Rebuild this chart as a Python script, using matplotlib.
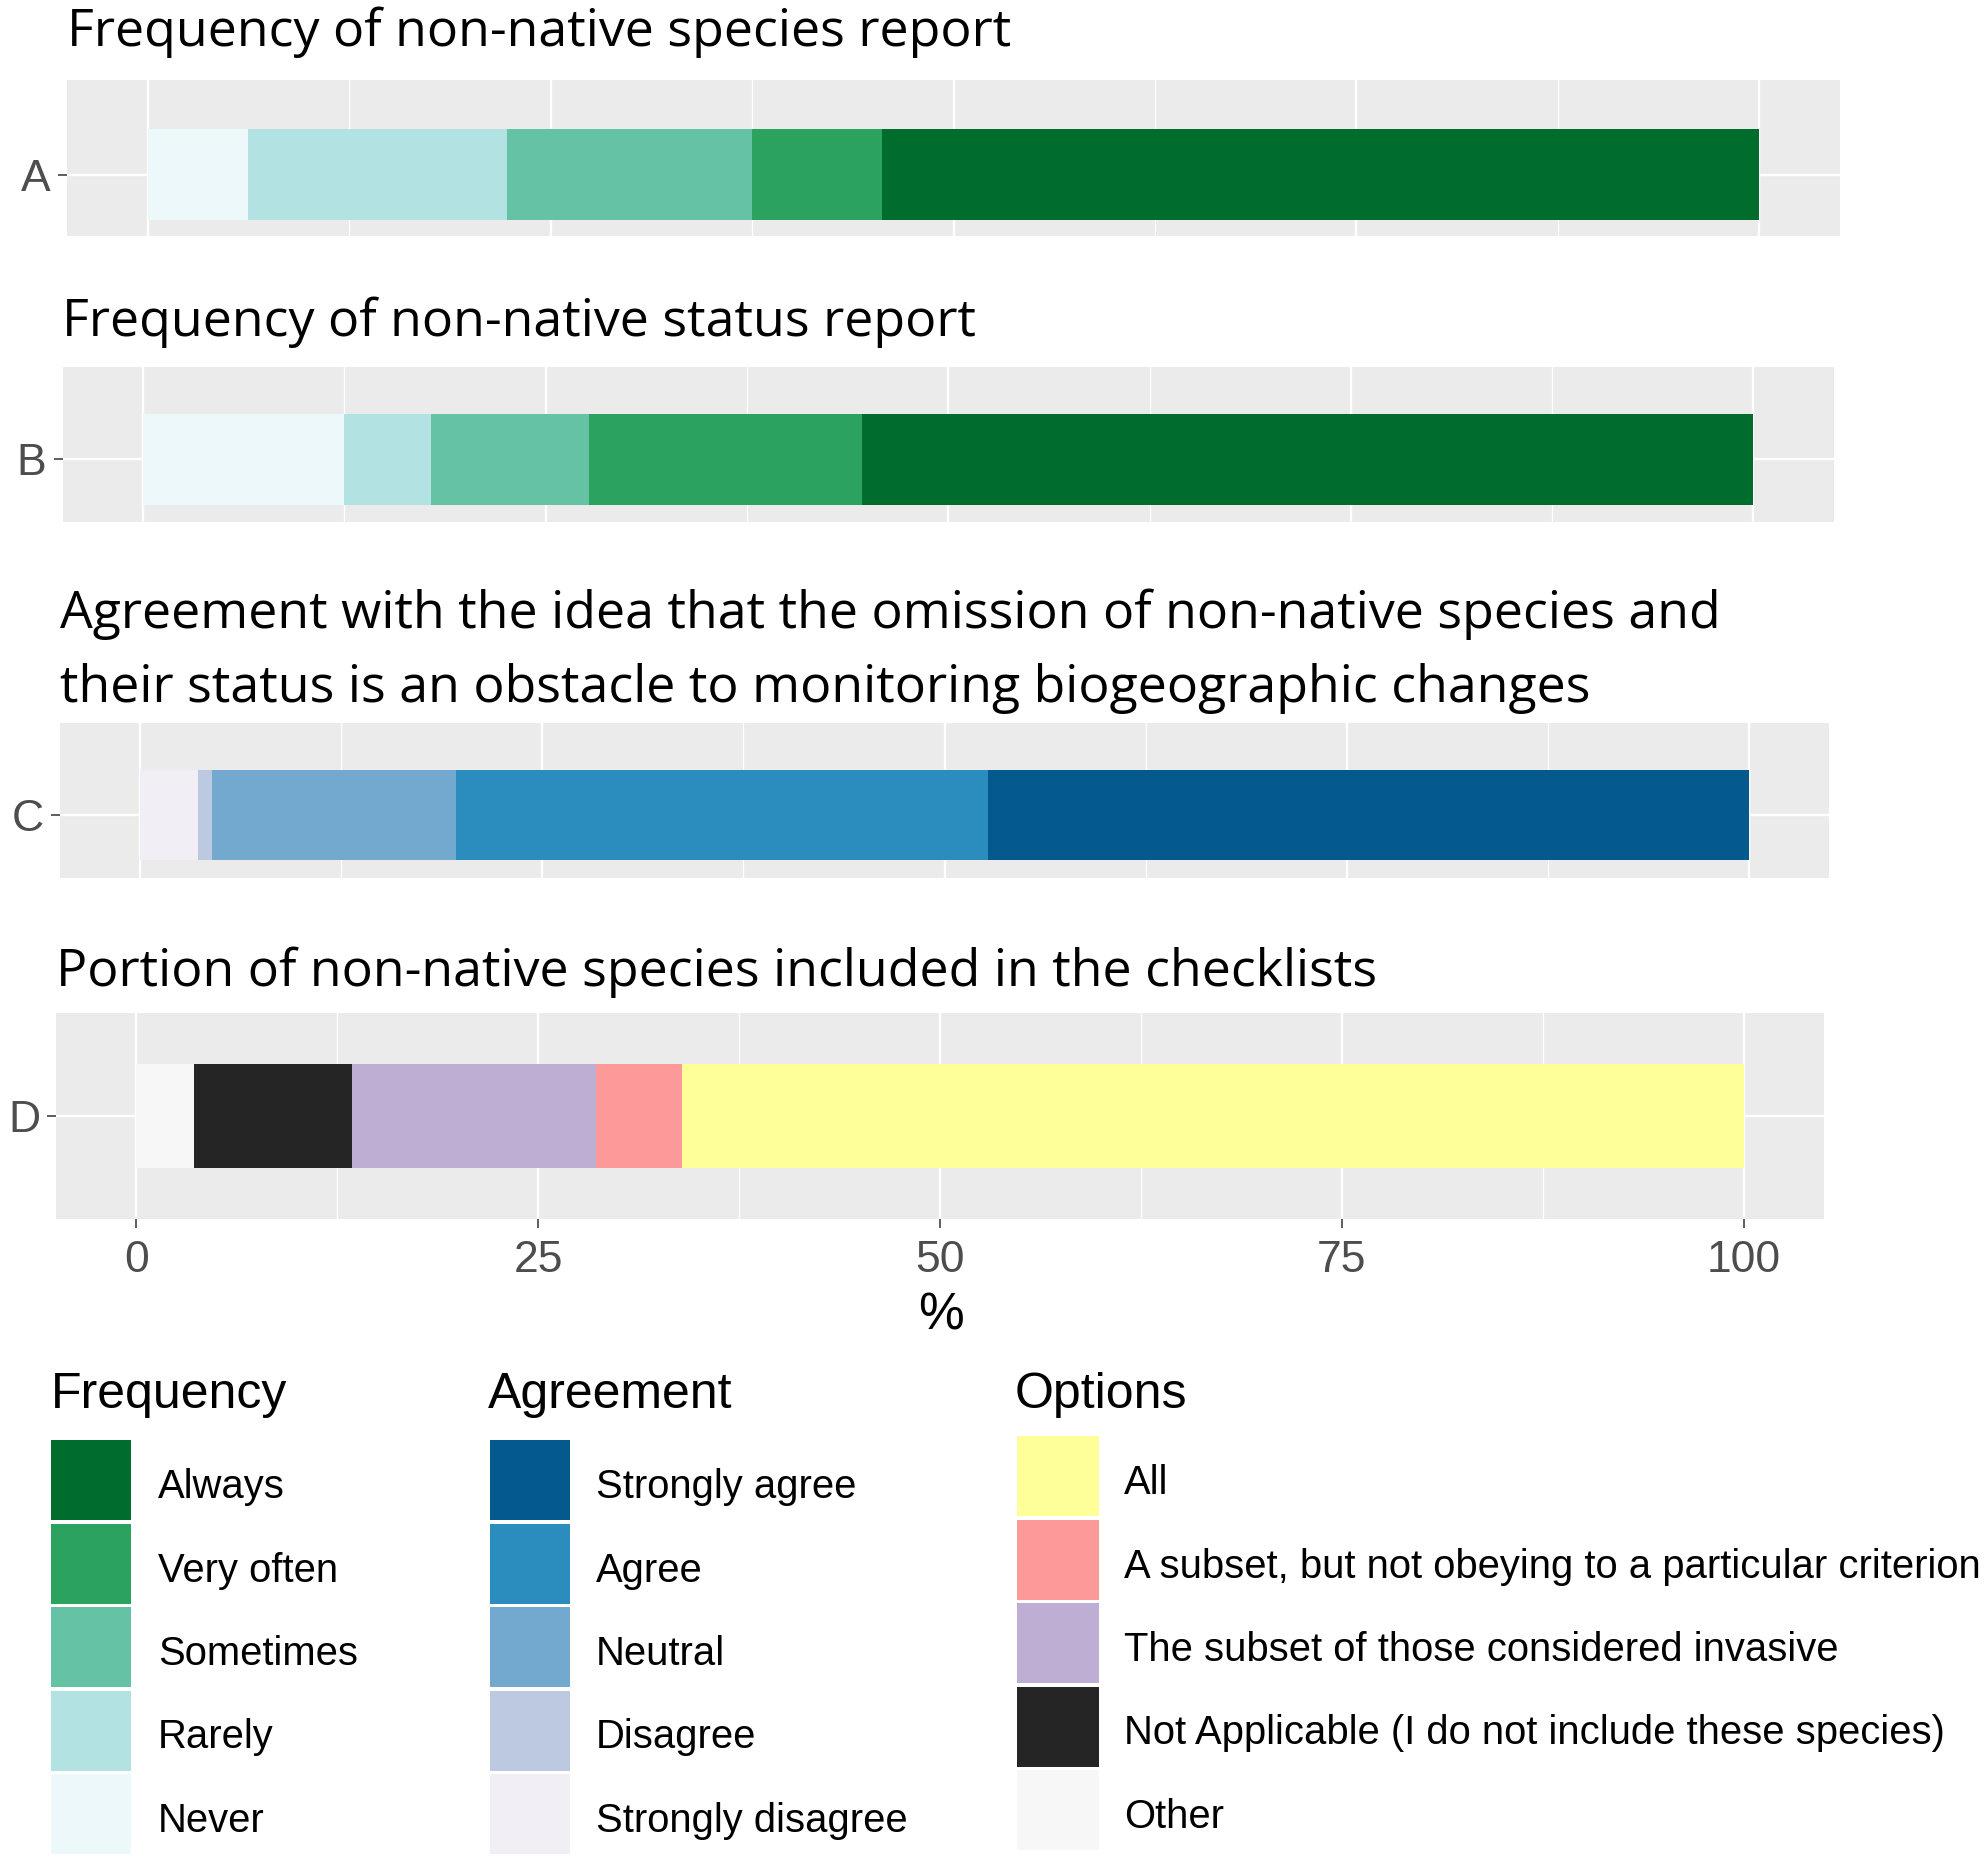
import matplotlib
matplotlib.use("Agg")
import matplotlib.pyplot as plt
from matplotlib.patches import Rectangle
import numpy as np

W, H, DPI = 1985, 1864, 100

# ---------------- data (respondent counts, shown as % of total) ----------------
freq_levels = ["Never", "Rarely", "Sometimes", "Very often", "Always"]
freq_colors = ["#EDF8FB", "#B2E2E2", "#66C2A4", "#2CA25F", "#006D2C"]
species_report = [7, 18, 17, 9, 61]
status_report = [14, 6, 11, 19, 62]

agree_levels = ["Strongly disagree", "Disagree", "Neutral", "Agree", "Strongly agree"]
agree_colors = ["#F1EEF6", "#BDC9E1", "#74A9CF", "#2B8CBE", "#045A8D"]
obstacle_agreement = [4, 1, 17, 37, 53]

option_levels = ["Other",
                 "Not Applicable (I do not include these species)",
                 "The subset of those considered invasive",
                 "A subset, but not obeying to a particular criterion",
                 "All"]
option_colors = ["#F7F7F7", "#252525", "#BEAED4", "#FB9A99", "#FFFF99"]
checklist_portion = [4, 11, 17, 6, 74]

panel_labels = ["A", "B", "C", "D"]
panel_titles = [
    ["Frequency of non-native species report"],
    ["Frequency of non-native status report"],
    ["Agreement with the idea that the omission of non-native species and",
     "their status is an obstacle to monitoring biogeographic changes"],
    ["Portion of non-native species included in the checklists"],
]
x_ticks = [0, 25, 50, 75, 100]
x_label = "%"
legend_titles = ["Frequency", "Agreement", "Options"]

# ---------------- layout (pixels) ----------------
panel_boxes = [  # left, top, right, bottom
    (67, 80, 1840, 236),
    (62.5, 367, 1834, 522),
    (60, 723, 1829, 878),
    (56, 1013, 1824, 1219),
]
panel_ylims = [(-0.473, 0.727), (-0.484, 0.708), (-0.49, 0.715), (-0.693, 0.693)]
title_baselines = [[46], [336], [628, 702], [986]]

plt.rcParams["font.family"] = ["Liberation Sans", "DejaVu Sans"]
fig = plt.figure(figsize=(W / DPI, H / DPI), dpi=DPI)
fig.patch.set_facecolor("white")


def frac(l, t, r, b):
    return [l / W, 1 - b / H, (r - l) / W, (b - t) / H]


overlay = fig.add_axes([0, 0, 1, 1])
overlay.set_xlim(0, W)
overlay.set_ylim(H, 0)
overlay.axis("off")
overlay.patch.set_alpha(0)

series = [
    (species_report, freq_colors),
    (status_report, freq_colors),
    (obstacle_agreement, agree_colors),
    (checklist_portion, option_colors),
]
minor_ticks = [(a + b) / 2 for a, b in zip(x_ticks[:-1], x_ticks[1:])]

axes = []
for i, ((counts, colors), box) in enumerate(zip(series, panel_boxes)):
    ax = fig.add_axes(frac(*box))
    axes.append(ax)
    counts = np.asarray(counts, dtype=float)
    pct = 100 * counts / counts.sum()
    left = 0.0
    for v, c in zip(pct, colors):
        ax.barh(0, v, left=left, height=0.7, color=c, linewidth=0, zorder=3)
        left += v
    ax.set_xlim(-5, 105)
    ax.set_ylim(*panel_ylims[i])
    ax.set_facecolor("#EBEBEB")
    for s in ax.spines.values():
        s.set_visible(False)
    ax.set_xticks(x_ticks)
    ax.set_xticks(minor_ticks, minor=True)
    ax.set_yticks([0])
    ax.set_yticklabels([panel_labels[i]])
    ax.set_axisbelow(True)
    ax.grid(which="major", color="white", linewidth=1.7)
    ax.grid(which="minor", axis="x", color="white", linewidth=0.9)
    ax.tick_params(which="minor", length=0)
    ax.tick_params(axis="y", length=6.5, width=1.1, color="#333333", pad=5,
                   labelsize=32, labelcolor="#4D4D4D")
    if i < 3:
        ax.tick_params(axis="x", which="both", length=0, labelbottom=False)
    else:
        ax.tick_params(axis="x", length=6.5, width=1.1, color="#333333", pad=8.5,
                       labelsize=32, labelcolor="#4D4D4D")
        ax.set_xlabel(x_label, fontsize=37, color="black")
        ax.xaxis.set_label_coords(941, 1330, transform=overlay.transData)
        ax.xaxis.label.set_va("baseline")

# ---------------- titles (Calibri-like look) ----------------
title_font = ["Open Sans", "DejaVu Sans"]
renderer = fig.canvas.get_renderer()
probe = overlay.text(0, 0, panel_titles[0][0], fontsize=30, family=title_font)
w = probe.get_window_extent(renderer).width
probe.remove()
title_size = 30 * 945 / w

for box, lines, bls in zip(panel_boxes, panel_titles, title_baselines):
    for line, bl in zip(lines, bls):
        overlay.text(box[0], bl, line, fontsize=title_size, family=title_font,
                     va="baseline", ha="left", color="black")

# ---------------- legends ----------------
legend_specs = [
    # title x, key x0, key x1, label x, top of first key, levels, colors
    (51, 51, 131, 158, 1440, freq_levels, freq_colors),
    (488, 490, 570, 596, 1440, agree_levels, agree_colors),
    (1015, 1017, 1099, 1124, 1436, option_levels, option_colors),
]
key_pitch, key_h = 83.5, 80
for title, (tx, kx0, kx1, lx, top0, levels, colors) in zip(legend_titles, legend_specs):
    overlay.text(tx, 1408, title, fontsize=36, va="baseline", ha="left", color="black")
    for j, (lev, col) in enumerate(zip(levels[::-1], colors[::-1])):
        y0 = top0 + j * key_pitch
        overlay.add_patch(Rectangle((kx0, y0), kx1 - kx0, key_h, facecolor=col,
                                    edgecolor="none"))
        overlay.text(lx, y0 + key_h / 2 + 7, lev, fontsize=28.8, va="center",
                     ha="left", color="black")

fig.savefig("out.png", dpi=DPI, facecolor="white")
